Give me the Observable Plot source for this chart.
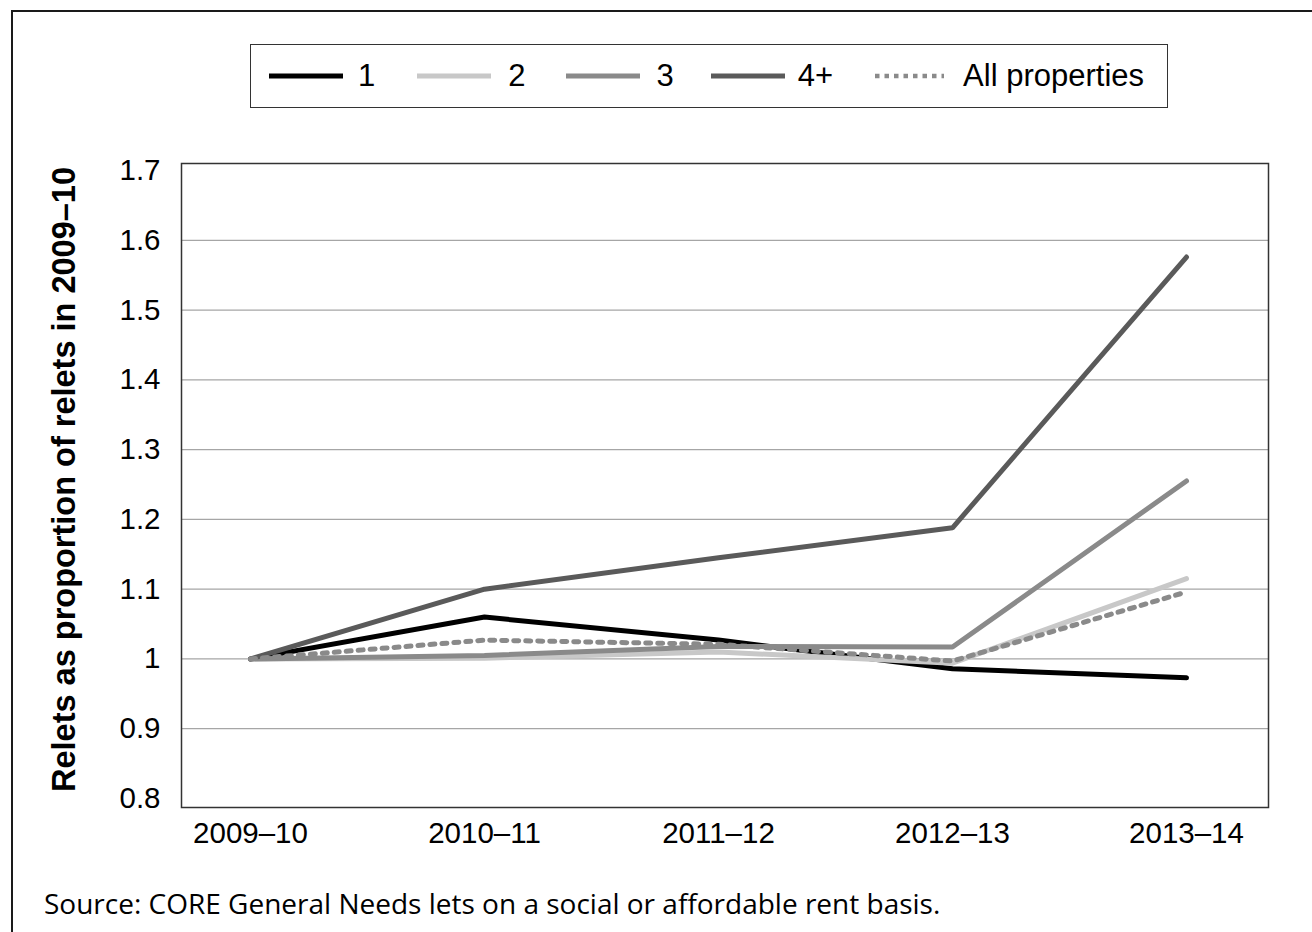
<!DOCTYPE html>
<html>
<head>
<meta charset="utf-8">
<script src="https://cdn.jsdelivr.net/npm/d3@7"></script>
<script src="https://cdn.jsdelivr.net/npm/@observablehq/plot@0.6"></script>
<style>
  html, body { margin: 0; padding: 0; background: #fff; }
  #wrap { position: relative; width: 1312px; height: 932px; overflow: hidden; font-family: "Liberation Sans", Arial, sans-serif; }
  #outer { position: absolute; left: 11px; top: 10px; width: 1400px; height: 1000px; border: 2px solid #1a1a1a; box-sizing: border-box; }
  #header { position: relative; height: 120px; }
  #legend { position: absolute; left: 250px; top: 44px; width: 918px; height: 64px; border: 1.5px solid #333; box-sizing: border-box; display: flex; align-items: center; font-size: 31px; color: #000; }
  .item { display: flex; align-items: center; }
  .item svg { display: block; }
  #chart { position: relative; }
  #caption { position: absolute; left: 44px; top: 884px; font-family: "Open Sans", "Noto Sans", sans-serif; font-size: 28px; color: #000; white-space: nowrap; }
</style>
</head>
<body>
<div id="wrap">
  <div id="outer"></div>
  <div id="header"><div id="legend"></div></div>
  <div id="chart"></div>
  <div id="caption">Source: CORE General Needs lets on a social or affordable rent basis.</div>
</div>
<script>
const years = ["2009–10", "2010–11", "2011–12", "2012–13", "2013–14"];
const seriesNames = ["1", "2", "3", "4+", "All properties"];
const values1 = [1.0, 1.060, 1.027, 0.986, 0.973];
const values2 = [1.0, 1.001, 1.010, 0.994, 1.115];
const values3 = [1.0, 1.005, 1.018, 1.017, 1.255];
const values4 = [1.0, 1.100, 1.145, 1.188, 1.576];
const valuesAll = [1.0, 1.027, 1.021, 0.997, 1.096];
const yTicks = [0.8, 0.9, 1.0, 1.1, 1.2, 1.3, 1.4, 1.5, 1.6, 1.7];
const gridTicks = [0.9, 1.0, 1.1, 1.2, 1.3, 1.4, 1.5, 1.6];
const yTitle = "Relets as proportion of relets in 2009–10";

const colors = {"1": "#000000", "2": "#c8c8c8", "3": "#8a8a8a", "4+": "#5a5a5a", "All properties": "#8a8a8a"};
const allValues = [values1, values2, values3, values4, valuesAll];
const rows = [];
seriesNames.forEach((s, i) => years.forEach((y, j) => rows.push({series: s, year: y, value: allValues[i][j]})));

// Legend (HTML)
const legend = document.getElementById("legend");
const legendSpec = [
  {name: "1", ml: 18, gap: 15, w: 74},
  {name: "2", ml: 42, gap: 17, w: 74},
  {name: "3", ml: 40, gap: 17, w: 74},
  {name: "4+", ml: 37, gap: 13, w: 74},
  {name: "All properties", ml: 42, gap: 19, w: 69}
];
legendSpec.forEach(d => {
  const item = document.createElement("div");
  item.className = "item";
  item.style.marginLeft = d.ml + "px";
  const dotted = d.name === "All properties";
  item.innerHTML = `<svg width="${d.w}" height="10"><line x1="0" x2="${d.w}" y1="5" y2="5" stroke="${colors[d.name]}" stroke-width="${dotted ? 4.5 : 5}" ${dotted ? 'stroke-dasharray="4.5,5"' : ''}/></svg><span style="margin-left:${d.gap}px">${d.name}</span>`;
  legend.appendChild(item);
});

const solid = rows.filter(d => d.series !== "All properties");
const dotted = rows.filter(d => d.series === "All properties");

const chart = Plot.plot({
  width: 1312,
  height: 760,
  marginTop: 43,
  marginBottom: 73,
  marginLeft: 181,
  marginRight: 44,
  style: {background: "transparent", fontFamily: "'Liberation Sans', Arial, sans-serif", color: "#000"},
  x: {type: "point", domain: years, padding: 0, insetLeft: 67, insetRight: 81},
  y: {domain: [0.8, 1.7], insetTop: 7, insetBottom: 9},
  color: {domain: seriesNames, range: seriesNames.map(s => colors[s])},
  marks: [
    Plot.ruleY(gridTicks, {stroke: "#a6a6a6", strokeWidth: 1.2}),
    Plot.frame({stroke: "#333", strokeWidth: 1.5}),
    Plot.axisY(yTicks, {tickSize: 0, tickPadding: 21, fontSize: 29.5, tickFormat: d => String(+d.toFixed(1)), label: null}),
    Plot.axisX({tickSize: 0, tickPadding: 15, fontSize: 29.5, label: null}),
    Plot.line(solid, {x: "year", y: "value", z: "series", stroke: "series", strokeWidth: 5, strokeLinecap: "round", strokeLinejoin: "miter"}),
    Plot.line(dotted, {x: "year", y: "value", stroke: "series", strokeWidth: 5, strokeLinecap: "round", strokeDasharray: "5,7"}),
    Plot.text([yTitle], {frameAnchor: "left", textAnchor: "middle", rotate: -90, dx: -117, dy: -6, fontSize: 32.5, fontWeight: "bold", fill: "#000"})
  ]
});
document.getElementById("chart").appendChild(chart);
</script>
</body>
</html>
